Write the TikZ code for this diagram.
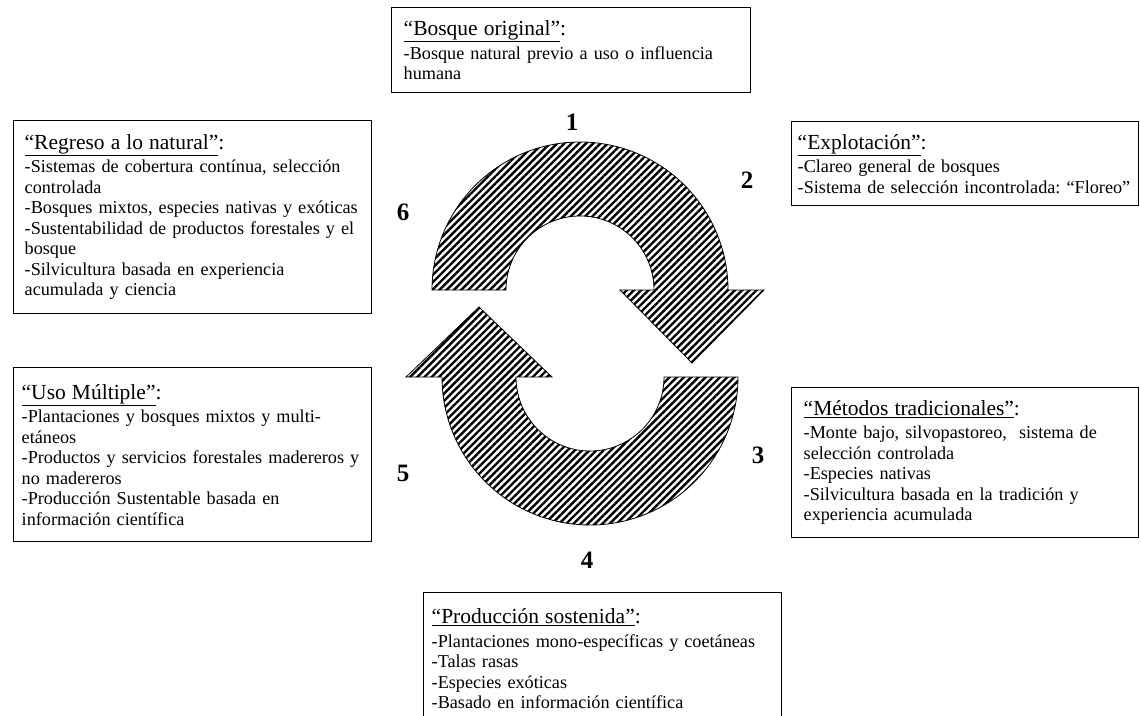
\documentclass[tikz,border=0pt]{standalone}
\usepackage{fontspec}
\setmainfont{Liberation Serif}
\usetikzlibrary{patterns.meta}

\newcommand\bodysize{\fontsize{18.2}{20.5}\selectfont\frenchspacing}
\newcommand\headsize{\fontsize{21.5}{22}\selectfont}
\newcommand\boxhead[1]{{\headsize\underline{#1}:}\\[3pt]}

\begin{document}
\begin{tikzpicture}[x=1pt,y=-1pt,
    textbox/.style={draw,line width=1.4pt,anchor=north west,align=left,inner xsep=8pt,inner ysep=0pt,font=\bodysize},
    numlabel/.style={font=\fontsize{25}{25}\selectfont\bfseries},
    hatched/.style={draw=black,line width=0.8pt,pattern={Lines[angle=45,distance=5.1pt,line width=2.4pt]}}]
    \useasboundingbox (0,0) rectangle (1140,715);
    \fill[white] (0,0) rectangle (1140,715);
    \clip (0,0) rectangle (1140,715);

    % Stage boxes
    \node[textbox,inner xsep=12pt,text width=335pt,minimum height=85pt] (bosque) at (391,7) {\boxhead{“Bosque original”}-Bosque natural previo a uso o influencia\\humana};
    \node[textbox,inner xsep=6pt,text width=335pt,minimum height=84pt] (explot) at (791,121) {\boxhead{“Explotación”}-Clareo general de bosques\\-Sistema de selección incontrolada: “Floreo”};
    \node[textbox,inner xsep=12pt,text width=323pt,minimum height=150pt] (metodos) at (791,387) {\boxhead{“Métodos tradicionales”}-Monte bajo, silvopastoreo,~ sistema de\\selección controlada\\-Especies nativas\\-Silvicultura basada en la tradición y\\experiencia acumulada};
    \node[textbox,text width=342pt,minimum height=132pt] (produc) at (423,592) {\boxhead{“Producción sostenida”}-Plantaciones mono-específicas y coetáneas\\-Talas rasas\\-Especies exóticas\\-Basado en información científica};
    \node[textbox,text width=342pt,minimum height=174pt] (uso) at (13,367) {\boxhead{“Uso Múltiple”}-Plantaciones y bosques mixtos y multi-\\etáneos\\-Productos y servicios forestales madereros y\\no madereros\\-Producción Sustentable basada en\\información científica};
    \node[textbox,inner xsep=11pt,text width=336pt,minimum height=193pt] (regreso) at (13,120) {\boxhead{“Regreso a lo natural”}-Sistemas de cobertura contínua, selección\\controlada\\-Bosques mixtos, especies nativas y exóticas\\-Sustentabilidad de productos forestales y el\\bosque\\-Silvicultura basada en experiencia\\acumulada y ciencia};

    % Cycle arrows
    \draw[hatched] (432,290) arc[start angle=180,end angle=360,radius=148] -- (764,290) -- (692,363) -- (620,290) -- (654,290) arc[start angle=0,end angle=-180,radius=74] -- cycle;
    \draw[hatched] (738,377) arc[start angle=0,end angle=180,radius=148] -- (406,377) -- (479,307) -- (552,377) -- (516,377) arc[start angle=180,end angle=0,radius=74] -- cycle;

    % Stage numbers
    \node[numlabel] (n1) at (572,122) {1};
    \node[numlabel] (n2) at (747,180) {2};
    \node[numlabel] (n3) at (758,455) {3};
    \node[numlabel] (n4) at (587,560) {4};
    \node[numlabel] (n5) at (403,473) {5};
    \node[numlabel] (n6) at (403,212) {6};
\end{tikzpicture}
\end{document}
